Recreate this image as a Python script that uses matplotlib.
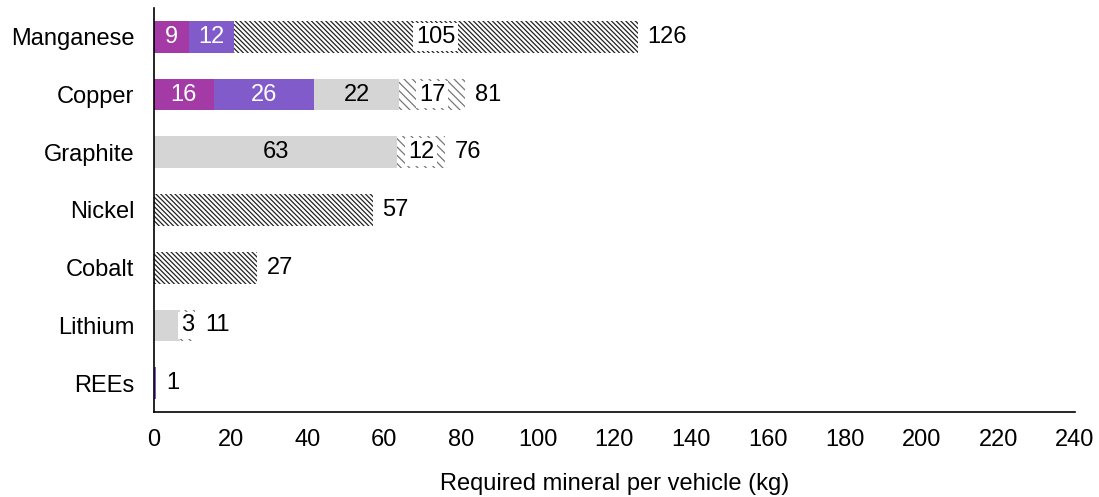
import matplotlib
matplotlib.use("Agg")
from matplotlib import pyplot as plt
import numpy as np

categories = ['Manganese', 'Copper', 'Graphite', 'Nickel', 'Cobalt', 'Lithium', 'REEs']

# segment values (kg)
seg_magenta = [9.1, 15.6, 0, 0, 0, 0, 0]
seg_purple = [11.8, 26.2, 0, 0, 0, 0, 0.6]
seg_gray = [0, 22.1, 63.4, 0, 0, 6.8, 0]
seg_dense = [105.2, 0, 0, 57, 27, 0, 0]
seg_dotted = [0, 17.3, 12.4, 0, 0, 4.0, 0]

# labels shown inside the segments ('' = no label)
lab_magenta = ['9', '16', '', '', '', '', '']
lab_purple = ['12', '26', '', '', '', '', '']
lab_gray = ['', '22', '63', '', '', '', '']
lab_dense = ['105', '', '', '', '', '', '']
lab_dotted = ['', '17', '12', '', '', '3', '']
totals = ['126', '81', '76', '57', '27', '11', '1']

plt.rcParams['font.family'] = ['Liberation Sans', 'DejaVu Sans']
plt.rcParams['font.size'] = 17
plt.rcParams['hatch.linewidth'] = 0.9

fig = plt.figure(figsize=(10.99, 4.97), dpi=100)
ax = fig.add_axes([0.140, 0.171, 0.838, 0.813])

y = np.arange(len(categories))
h = 0.55
left = np.zeros(len(categories))

series = [
    (seg_magenta, lab_magenta, dict(color='#a33aa6'), 'white', False),
    (seg_purple, lab_purple, dict(color='#805bc9'), 'white', False),
    (seg_gray, lab_gray, dict(color='#d5d5d5'), 'black', False),
    (seg_dense, lab_dense, dict(color='white', edgecolor='#222222', hatch='\\\\\\\\\\\\\\', linewidth=0), 'black', True),
    (seg_dotted, lab_dotted, dict(color='white', edgecolor='#777777', hatch='\\\\\\\\', linewidth=0), 'black', True),
]

for vals, labs, style, tcol, boxed in series:
    vals = np.array(vals, dtype=float)
    ax.barh(y, vals, height=h, left=left, **style)
    for i in range(len(categories)):
        if labs[i]:
            bbox = dict(facecolor='white', edgecolor='none', pad=2) if boxed else None
            ax.text(left[i] + vals[i] / 2, y[i], labs[i], ha='center', va='center',
                    color=tcol, bbox=bbox)
    left = left + vals

for i in range(len(categories)):
    ax.text(left[i] + 2.5, y[i], totals[i], ha='left', va='center')

ax.set_yticks(y)
ax.set_yticklabels(categories)
ax.set_ylim(6.5, -0.5)
ax.set_xlim(0, 240)
ax.set_xticks(range(0, 241, 20))
ax.tick_params(length=0, pad=12)
ax.tick_params(axis='y', pad=14)
ax.spines['top'].set_visible(False)
ax.spines['right'].set_visible(False)
ax.spines['left'].set_linewidth(1.2)
ax.spines['bottom'].set_linewidth(1.2)
ax.set_xlabel('Required mineral per vehicle (kg)', labelpad=16)

fig.savefig('out.png')
